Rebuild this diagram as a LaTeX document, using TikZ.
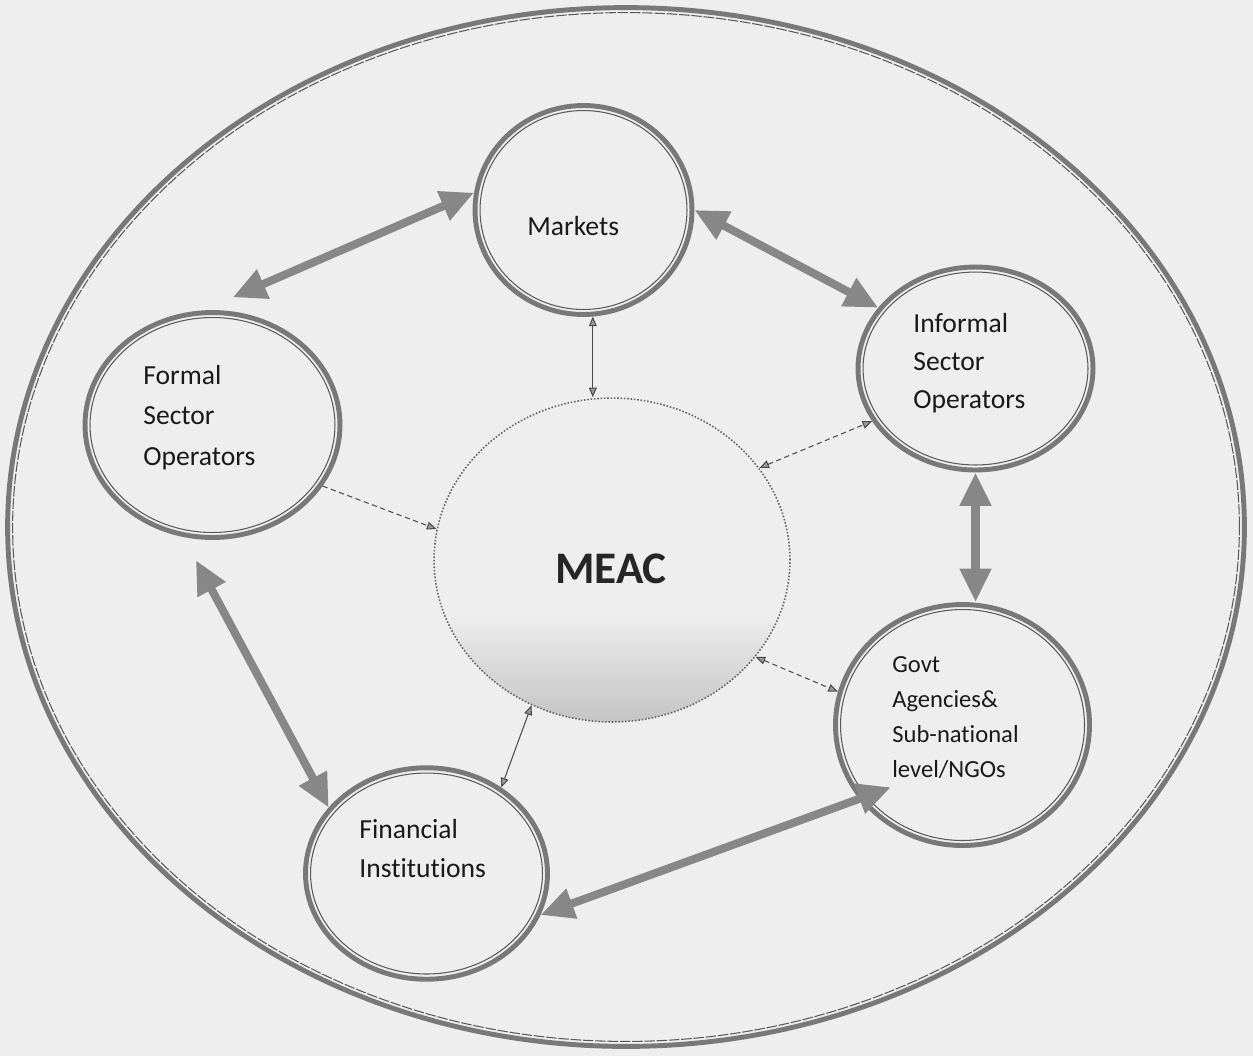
\documentclass[tikz,border=0pt]{standalone}
\usepackage{fontspec}
\setmainfont{Carlito}[Ligatures=NoCommon]
\usetikzlibrary{shapes.geometric,arrows.meta,calc}
\definecolor{paper}{RGB}{238,238,238}
\definecolor{ringgray}{RGB}{120,120,120}
\definecolor{arrowgray}{RGB}{135,135,135}
\begin{document}
\begin{tikzpicture}[x=0.02cm,y=-0.02cm,
  ring/.style={ellipse, draw=ringgray, line width=2.8pt, inner sep=0pt},
  innerring/.style={draw=black!65, line width=0.6pt},
  lbl/.style={font=\fontsize{15.7}{22.8}\selectfont, align=left, inner sep=0pt, text=black!90},
  bigarrow/.style={draw=arrowgray, line width=4.6pt,
     {Triangle[length=19pt,width=17pt]}-{Triangle[length=19pt,width=17pt]}},
  thinarrow/.style={draw=black!70, line width=0.6pt,
     {Triangle[length=5.5pt,width=4.5pt,fill=black!40]}-{Triangle[length=5.5pt,width=4.5pt,fill=black!40]}},
  onearrow/.style={draw=black!70, line width=0.6pt,
     -{Triangle[length=5.5pt,width=4.5pt,fill=black!40]}}
]
\fill[paper] (0,0) rectangle (1253,1056);
\useasboundingbox (0,0) rectangle (1253,1056);

% outer frame
\node[ring, minimum width=24.74cm, minimum height=20.78cm] (env) at (626,527) {};
\draw[innerring, dash pattern=on 6pt off 1pt] (env.center) ellipse [x radius=12.27cm, y radius=10.29cm];

% MEAC
\begin{scope}
  \clip (612,560) ellipse [x radius=3.56cm, y radius=3.24cm];
  \shade[top color=paper, bottom color=black!24] (420,612) rectangle (800,728);
\end{scope}
\node[ellipse, draw=black!60, densely dotted, line width=0.9pt, inner sep=0pt,
      minimum width=7.12cm, minimum height=6.48cm] (M) at (612,560) {};
\node[font=\fontsize{25.7}{30}\selectfont\bfseries, anchor=base, inner sep=0pt, text=black!85] (tM) at (611,583) {MEAC};

% rings
\node[ring, minimum width=4.34cm, minimum height=4.18cm] (m) at (583.5,210) {};
\draw[innerring] (m.center) ellipse [x radius=2.07cm, y radius=1.99cm];
\node[ring, minimum width=5.10cm, minimum height=4.50cm] (f) at (212.5,425) {};
\draw[innerring] (f.center) ellipse [x radius=2.45cm, y radius=2.15cm];
\node[ring, minimum width=4.70cm, minimum height=4.06cm] (i) at (975.5,368.5) {};
\draw[innerring] (i.center) ellipse [x radius=2.25cm, y radius=1.93cm];
\node[ring, minimum width=5.08cm, minimum height=4.82cm] (g) at (962.5,725) {};
\draw[innerring] (g.center) ellipse [x radius=2.44cm, y radius=2.31cm];
\node[ring, minimum width=4.84cm, minimum height=4.23cm] (fi) at (426.5,873.5) {};
\draw[innerring] (fi.center) ellipse [x radius=2.32cm, y radius=2.01cm];

% labels (base = baseline of last line)
\node[lbl, anchor=base west] (tm) at (527,235) {Markets};
\node[lbl, anchor=base west] (tf) at (143,465) {Formal\\Sector\\Operators};
\node[lbl, anchor=base west, font=\fontsize{15.7}{21.6}\selectfont] (ti) at (913,408) {Informal\\Sector\\Operators};
\node[lbl, anchor=base west, font=\fontsize{14}{19.9}\selectfont] (tg) at (892,777) {Govt\\Agencies\&\\Sub-national\\level/NGOs};
\node[lbl, anchor=base west, font=\fontsize{15.7}{22.2}\selectfont] (tfi) at (359,877) {Financial\\Institutions};

% thick arrows
\draw[bigarrow] (m.171) -- ($(f.81)!-8pt!(f.center)$);
\draw[bigarrow] (m.0) -- (i.148);
\draw[bigarrow] (i.270) -- (i.270 |- g.north);
\draw[bigarrow] ($(g.221)!18pt!(g.center)$) -- (fi.340);
\draw[bigarrow] ($(f.263)!-12pt!(f.center)$) -- (fi.146);

% thin arrows
\draw[thinarrow] (m.275) -- (m.275 |- M.north);
\draw[onearrow, densely dashed] (f.331) -- (M.170);
\draw[thinarrow, densely dashed] (M.32) -- (i.207);
\draw[thinarrow, densely dashed] (M.326) -- (g.165);
\draw[thinarrow] (M.241) -- (fi.49);
\end{tikzpicture}
\end{document}
